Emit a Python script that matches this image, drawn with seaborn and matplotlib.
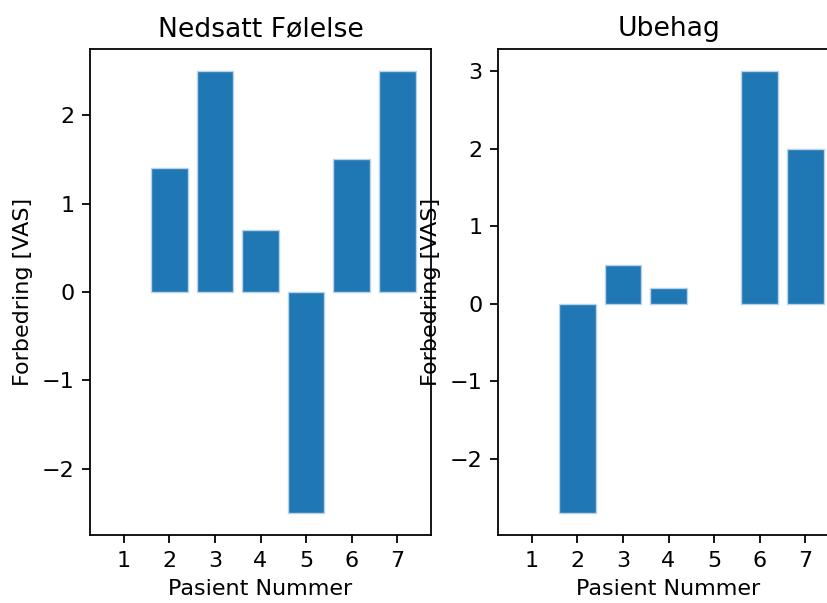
import matplotlib
matplotlib.use("Agg")
import matplotlib.pyplot as plt
import seaborn as sns
import pandas as pd

patients = [1, 2, 3, 4, 5, 6, 7]
nedsatt_folelse = [0.0, 1.4, 2.5, 0.7, -2.5, 1.5, 2.5]
ubehag = [0.0, -2.7, 0.5, 0.2, 0.0, 3.0, 2.0]
titles = ["Nedsatt Følelse", "Ubehag"]

sns.set_style("ticks")
S = 1.6
plt.rcParams.update({
    "font.family": ["DejaVu Sans"],
    "font.size": 10 * S,
    "axes.titlesize": 12 * S,
    "axes.labelsize": 10 * S,
    "xtick.labelsize": 10 * S,
    "ytick.labelsize": 10 * S,
    "axes.linewidth": 0.8 * S,
    "xtick.major.width": 0.8 * S,
    "ytick.major.width": 0.8 * S,
    "xtick.major.size": 3.5 * S,
    "ytick.major.size": 3.5 * S,
    "xtick.major.pad": 3.5 * S,
    "ytick.major.pad": 3.5 * S,
    "axes.titlepad": 6 * S,
    "axes.labelpad": 4 * S,
    "axes.edgecolor": "black",
    "xtick.color": "black",
    "ytick.color": "black",
    "text.color": "black",
    "axes.labelcolor": "black",
})

fig = plt.figure(figsize=(8.27, 6.03), dpi=100)
ax1 = fig.add_axes([90 / 827, 1 - 535 / 603, 341 / 827, 486 / 603])
ax2 = fig.add_axes([498 / 827, 1 - 535 / 603, 341 / 827, 486 / 603])

for ax, vals, title in zip([ax1, ax2], [nedsatt_folelse, ubehag], titles):
    df = pd.DataFrame({"Pasient": patients, "Verdi": vals})
    sns.barplot(data=df, x="Pasient", y="Verdi", native_scale=True,
                color="#1f77b4", saturation=1, edgecolor="#b9d4ea",
                linewidth=1.0, width=0.8, ax=ax)
    for p in ax.patches:
        if p.get_height() == 0:
            p.set_linewidth(0)
    ax.set_xticks(patients)
    ax.set_title(title)
    ax.set_xlabel("Pasient Nummer")
    ax.set_ylabel("Forbedring [VAS]")
    ax.margins(x=0.05, y=0.05)
    ax.autoscale_view()
    for sp in ax.spines.values():
        sp.set_visible(True)

fig.savefig("out.png", dpi=100)
